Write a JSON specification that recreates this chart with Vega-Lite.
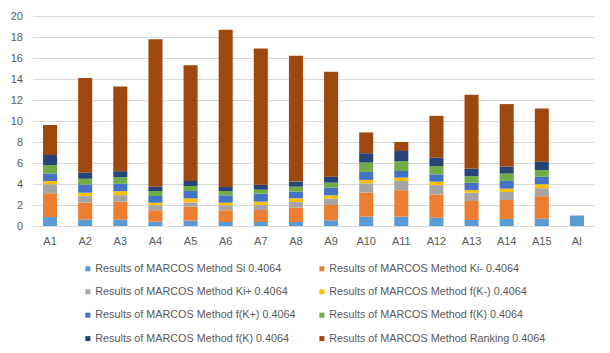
{
  "$schema": "https://vega.github.io/schema/vega-lite/v6.json",
  "width": 562,
  "height": 210,
  "padding": {"left": 9.5, "top": 10, "right": 10, "bottom": 5},
  "background": "white",
  "config": {
    "font": "Liberation Sans",
    "view": {"stroke": null},
    "axis": {"labelColor": "#595959", "labelFontSize": 11, "titleColor": "#595959"},
    "legend": {"labelColor": "#595959", "labelFontSize": 10.8}
  },
  "data": {"values": [
    {"a":"A1","s":"Si","k":1,"v":0.86},{"a":"A1","s":"Ki-","k":2,"v":2.25},{"a":"A1","s":"Ki+","k":3,"v":0.86},{"a":"A1","s":"fK-","k":4,"v":0.32},{"a":"A1","s":"fK+","k":5,"v":0.70},{"a":"A1","s":"fK","k":6,"v":0.83},{"a":"A1","s":"fK2","k":7,"v":0.95},{"a":"A1","s":"Rank","k":8,"v":2.84},
    {"a":"A2","s":"Si","k":1,"v":0.60},{"a":"A2","s":"Ki-","k":2,"v":1.62},{"a":"A2","s":"Ki+","k":3,"v":0.63},{"a":"A2","s":"fK-","k":4,"v":0.32},{"a":"A2","s":"fK+","k":5,"v":0.79},{"a":"A2","s":"fK","k":6,"v":0.54},{"a":"A2","s":"fK2","k":7,"v":0.57},{"a":"A2","s":"Rank","k":8,"v":9.02},
    {"a":"A3","s":"Si","k":1,"v":0.60},{"a":"A3","s":"Ki-","k":2,"v":1.71},{"a":"A3","s":"Ki+","k":3,"v":0.63},{"a":"A3","s":"fK-","k":4,"v":0.38},{"a":"A3","s":"fK+","k":5,"v":0.70},{"a":"A3","s":"fK","k":6,"v":0.63},{"a":"A3","s":"fK2","k":7,"v":0.57},{"a":"A3","s":"Rank","k":8,"v":8.06},
    {"a":"A4","s":"Si","k":1,"v":0.41},{"a":"A4","s":"Ki-","k":2,"v":1.08},{"a":"A4","s":"Ki+","k":3,"v":0.48},{"a":"A4","s":"fK-","k":4,"v":0.25},{"a":"A4","s":"fK+","k":5,"v":0.63},{"a":"A4","s":"fK","k":6,"v":0.48},{"a":"A4","s":"fK2","k":7,"v":0.41},{"a":"A4","s":"Rank","k":8,"v":14.05},
    {"a":"A5","s":"Si","k":1,"v":0.51},{"a":"A5","s":"Ki-","k":2,"v":1.33},{"a":"A5","s":"Ki+","k":3,"v":0.41},{"a":"A5","s":"fK-","k":4,"v":0.38},{"a":"A5","s":"fK+","k":5,"v":0.70},{"a":"A5","s":"fK","k":6,"v":0.48},{"a":"A5","s":"fK2","k":7,"v":0.48},{"a":"A5","s":"Rank","k":8,"v":11.01},
    {"a":"A6","s":"Si","k":1,"v":0.38},{"a":"A6","s":"Ki-","k":2,"v":1.11},{"a":"A6","s":"Ki+","k":3,"v":0.48},{"a":"A6","s":"fK-","k":4,"v":0.25},{"a":"A6","s":"fK+","k":5,"v":0.70},{"a":"A6","s":"fK","k":6,"v":0.41},{"a":"A6","s":"fK2","k":7,"v":0.38},{"a":"A6","s":"Rank","k":8,"v":14.99},
    {"a":"A7","s":"Si","k":1,"v":0.38},{"a":"A7","s":"Ki-","k":2,"v":1.14},{"a":"A7","s":"Ki+","k":3,"v":0.48},{"a":"A7","s":"fK-","k":4,"v":0.32},{"a":"A7","s":"fK+","k":5,"v":0.76},{"a":"A7","s":"fK","k":6,"v":0.38},{"a":"A7","s":"fK2","k":7,"v":0.48},{"a":"A7","s":"Rank","k":8,"v":12.96},
    {"a":"A8","s":"Si","k":1,"v":0.38},{"a":"A8","s":"Ki-","k":2,"v":1.37},{"a":"A8","s":"Ki+","k":3,"v":0.54},{"a":"A8","s":"fK-","k":4,"v":0.35},{"a":"A8","s":"fK+","k":5,"v":0.63},{"a":"A8","s":"fK","k":6,"v":0.48},{"a":"A8","s":"fK2","k":7,"v":0.48},{"a":"A8","s":"Rank","k":8,"v":11.98},
    {"a":"A9","s":"Si","k":1,"v":0.54},{"a":"A9","s":"Ki-","k":2,"v":1.46},{"a":"A9","s":"Ki+","k":3,"v":0.60},{"a":"A9","s":"fK-","k":4,"v":0.32},{"a":"A9","s":"fK+","k":5,"v":0.73},{"a":"A9","s":"fK","k":6,"v":0.48},{"a":"A9","s":"fK2","k":7,"v":0.57},{"a":"A9","s":"Rank","k":8,"v":10.0},
    {"a":"A10","s":"Si","k":1,"v":0.89},{"a":"A10","s":"Ki-","k":2,"v":2.29},{"a":"A10","s":"Ki+","k":3,"v":0.89},{"a":"A10","s":"fK-","k":4,"v":0.32},{"a":"A10","s":"fK+","k":5,"v":0.76},{"a":"A10","s":"fK","k":6,"v":0.89},{"a":"A10","s":"fK2","k":7,"v":0.89},{"a":"A10","s":"Rank","k":8,"v":1.98},
    {"a":"A11","s":"Si","k":1,"v":0.89},{"a":"A11","s":"Ki-","k":2,"v":2.51},{"a":"A11","s":"Ki+","k":3,"v":0.89},{"a":"A11","s":"fK-","k":4,"v":0.32},{"a":"A11","s":"fK+","k":5,"v":0.63},{"a":"A11","s":"fK","k":6,"v":0.95},{"a":"A11","s":"fK2","k":7,"v":0.95},{"a":"A11","s":"Rank","k":8,"v":0.86},
    {"a":"A12","s":"Si","k":1,"v":0.79},{"a":"A12","s":"Ki-","k":2,"v":2.22},{"a":"A12","s":"Ki+","k":3,"v":0.89},{"a":"A12","s":"fK-","k":4,"v":0.32},{"a":"A12","s":"fK+","k":5,"v":0.70},{"a":"A12","s":"fK","k":6,"v":0.79},{"a":"A12","s":"fK2","k":7,"v":0.79},{"a":"A12","s":"Rank","k":8,"v":3.99},
    {"a":"A13","s":"Si","k":1,"v":0.57},{"a":"A13","s":"Ki-","k":2,"v":1.81},{"a":"A13","s":"Ki+","k":3,"v":0.79},{"a":"A13","s":"fK-","k":4,"v":0.25},{"a":"A13","s":"fK+","k":5,"v":0.70},{"a":"A13","s":"fK","k":6,"v":0.63},{"a":"A13","s":"fK2","k":7,"v":0.70},{"a":"A13","s":"Rank","k":8,"v":7.04},
    {"a":"A14","s":"Si","k":1,"v":0.67},{"a":"A14","s":"Ki-","k":2,"v":1.81},{"a":"A14","s":"Ki+","k":3,"v":0.76},{"a":"A14","s":"fK-","k":4,"v":0.32},{"a":"A14","s":"fK+","k":5,"v":0.73},{"a":"A14","s":"fK","k":6,"v":0.70},{"a":"A14","s":"fK2","k":7,"v":0.67},{"a":"A14","s":"Rank","k":8,"v":5.95},
    {"a":"A15","s":"Si","k":1,"v":0.70},{"a":"A15","s":"Ki-","k":2,"v":2.13},{"a":"A15","s":"Ki+","k":3,"v":0.76},{"a":"A15","s":"fK-","k":4,"v":0.38},{"a":"A15","s":"fK+","k":5,"v":0.73},{"a":"A15","s":"fK","k":6,"v":0.63},{"a":"A15","s":"fK2","k":7,"v":0.79},{"a":"A15","s":"Rank","k":8,"v":5.07},
    {"a":"AI","s":"Si","k":1,"v":1.0}
  ]},
  "mark": {"type": "bar"},
  "encoding": {
    "x": {
      "field": "a", "type": "nominal", "sort": null, "title": null,
      "scale": {"paddingInner": 0.6, "paddingOuter": 0.3},
      "axis": {"labelAngle": 0, "ticks": false, "domainColor": "#D9D9D9", "labelPadding": 9}
    },
    "y": {
      "field": "v", "type": "quantitative", "stack": "zero", "title": null,
      "scale": {"domain": [0, 20], "nice": false},
      "axis": {"values": [0,2,4,6,8,10,12,14,16,18,20], "grid": true, "gridColor": "#D9D9D9", "domain": false, "ticks": false, "labelPadding": 10}
    },
    "color": {
      "field": "s", "type": "nominal", "title": null,
      "scale": {
        "domain": ["Si","Ki-","Ki+","fK-","fK+","fK","fK2","Rank"],
        "range": ["#5B9BD5","#ED7D31","#A5A5A5","#FFC000","#4472C4","#70AD47","#264478","#9E480E"]
      },
      "legend": {
        "orient": "none", "direction": "horizontal", "gridAlign": "each", "legendX": 50, "legendY": 247, "columns": 2, "symbolType": "square", "symbolSize": 25,
        "symbolStrokeWidth": 0, "symbolOffset": 0, "labelOffset": 2, "rowPadding": 11.4, "columnPadding": 21, "labelLimit": 300,
        "labelExpr": "'Results of MARCOS Method ' + (datum.label == 'Si' ? 'Si' : datum.label == 'Ki-' ? 'Ki-' : datum.label == 'Ki+' ? 'Ki+' : datum.label == 'fK-' ? 'f(K-)' : datum.label == 'fK+' ? 'f(K+)' : datum.label == 'Rank' ? 'Ranking' : 'f(K)') + ' 0.4064'"
      }
    },
    "order": {"field": "k", "type": "quantitative"}
  }
}
